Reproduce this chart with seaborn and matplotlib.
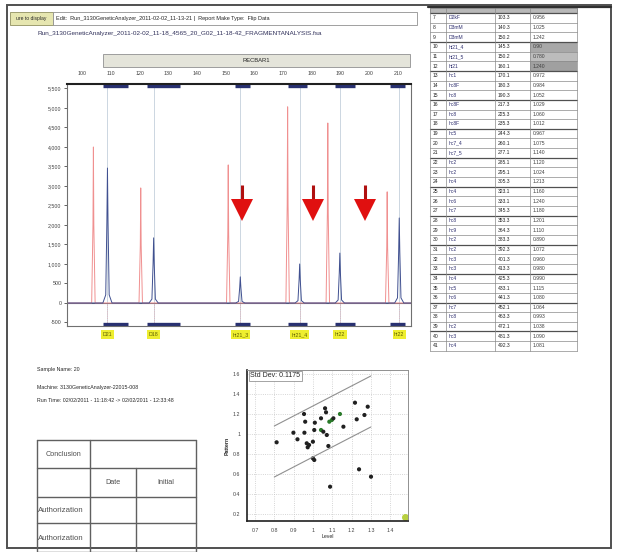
import matplotlib
matplotlib.use("Agg")
import pandas as pd
import matplotlib.pyplot as plt
import seaborn as sns
from matplotlib.patches import Rectangle

# --- electropherogram: peak size (bp) and height (RFU) ---
blue_pos = [108.8, 124.9, 155.1, 175.8, 189.8, 210.5]
blue_rfu = [3460, 1670, 670, 1000, 1280, 2180]
red_pos = [103.9, 120.4, 150.9, 171.6, 185.6, 206.3]
red_rfu = [4000, 2950, 3540, 5030, 4615, 2850]

bin_start = [107.4, 122.5, 153.3, 171.6, 188.1, 207.4]
bin_end = [116.1, 134.0, 158.6, 178.2, 195.1, 212.6]
marker_names = ["D21", "D18", "ht21_3", "ht21_4", "ht22", "ht22"]
arrow_pos = [155.6, 180.4, 198.4]

size_ticks = [100, 110, 120, 130, 140, 150, 160, 170, 180, 190, 200, 210]
rfu_ticks = [-500, 0, 500, 1000, 1500, 2000, 2500, 3000, 3500, 4000, 4500, 5000, 5500]

# --- ratio scatter ---
level_x = [0.812, 0.899, 0.92, 0.954, 0.96, 0.956, 0.968, 0.973, 0.98, 1.0, 1.0, 1.007,
           1.007, 1.01, 1.042, 1.042, 1.054, 1.063, 1.068, 1.072, 1.085, 1.098, 1.106,
           1.14, 1.158, 1.08, 1.089, 1.218, 1.227, 1.267, 1.284, 1.239, 1.301]
pattern_y = [0.917, 1.013, 0.947, 1.2, 1.123, 1.013, 0.907, 0.867, 0.89, 0.923, 0.757, 0.74,
             1.04, 1.113, 1.157, 1.04, 1.023, 1.257, 1.217, 0.99, 1.123, 1.14, 1.157,
             1.2, 1.073, 0.88, 0.473, 1.313, 1.147, 1.19, 1.273, 0.647, 0.573]
point_group = ["n"] * 33
for i in (15, 20, 21, 23):
    point_group[i] = "g"
level_ticks = [0.7, 0.8, 0.9, 1, 1.1, 1.2, 1.3, 1.4]
pattern_ticks = [0.2, 0.4, 0.6, 0.8, 1, 1.2, 1.4, 1.6]

# --- right-hand result table ---
row_no = list(range(7, 42))
row_name = ["D2kF", "D3mM", "D3mM", "ht21_4", "ht21_5", "ht21", "hc1", "hc8F", "hc8",
            "hc8F", "hc8", "hc8F", "hc5", "hc7_4", "hc7_5", "hc2", "hc2", "hc4", "hc4",
            "hc6", "hc7", "hc8", "hc9", "hc2", "hc2", "hc3", "hc3", "hc4", "hc5", "hc6",
            "hc7", "hc8", "hc2", "hc3", "hc4"]
row_size = ["103.3", "140.3", "150.2", "145.3", "150.2", "160.1", "170.1", "180.3",
            "190.3", "217.3", "225.3", "235.3", "244.3", "260.1", "277.1", "285.1",
            "295.1", "305.3", "323.1", "333.1", "345.3", "353.3", "364.3", "383.3",
            "392.3", "401.3", "413.3", "425.3", "433.1", "441.3", "452.1", "463.3",
            "472.1", "481.3", "492.3"]
row_value = ["0.956", "1.025", "1.242", "0.90", "0.780", "1.240", "0.972", "0.984",
             "1.052", "1.029", "1.060", "1.012", "0.967", "1.075", "1.140", "1.120",
             "1.024", "1.213", "1.160", "1.240", "1.180", "1.201", "1.110", "0.890",
             "1.072", "0.960", "0.980", "0.990", "1.115", "1.080", "1.064", "0.993",
             "1.038", "1.090", "1.081"]

W, H = 617, 552
sns.set_style("white")
plt.rcParams['font.family'] = ['Liberation Sans', 'DejaVu Sans']

fig = plt.figure(figsize=(W / 100, H / 100), dpi=100)


def px_axes(l, t, r, b):
    return fig.add_axes([l / W, 1 - b / H, (r - l) / W, (b - t) / H])


# background layer in pixel coordinates
bg = fig.add_axes([0, 0, 1, 1])
bg.set_xlim(0, W)
bg.set_ylim(H, 0)
bg.axis("off")

bg.add_patch(Rectangle((7, 5), 604, 543, fill=False, ec="#505050", lw=1.4))
bg.add_patch(Rectangle((10, 12), 43, 13, fc="#e6e6b0", ec="#909060", lw=0.6))
bg.text(31, 18.5, "ure to display", fontsize=3.6, ha="center", va="center")
bg.add_patch(Rectangle((53, 12), 364, 13, fc="white", ec="#909090", lw=0.6))
bg.text(56, 18.5, "Edit:  Run_3130GeneticAnalyzer_2011-02-02_11-13-21 |  Report Make Type:  Flip Data",
        fontsize=4, va="center")
bg.text(37, 34, "Run_3130GeneticAnalyzer_2011-02-02_11-18_4565_20_G02_11-18-42_FRAGMENTANALYSIS.fsa",
        fontsize=4.6, va="center", color="#30305a")
bg.add_patch(Rectangle((103, 54), 307, 13, fc="#e4e4da", ec="#909090", lw=0.6))
bg.text(256, 60.5, "RECBAR1", fontsize=4.2, ha="center", va="center")

# result table
tl, tr = 430, 577
col_x = [430, 446, 495, 530, 577]
t_top, row_h = 13, 9.65
bg.add_patch(Rectangle((tl, 8), tr - tl, t_top - 8, fc="#b8b8b8", ec="#808080", lw=0.5))
for i in range(len(row_no)):
    y0 = t_top + i * row_h
    if 3 <= i <= 5:
        bg.add_patch(Rectangle((col_x[3], y0), col_x[4] - col_x[3], row_h,
                               fc=["#a8a8a8", "#bcbcbc", "#a0a0a0"][i - 3], ec="none"))
    yc = y0 + row_h / 2
    bg.text(col_x[0] + 3, yc, str(row_no[i]), fontsize=3.6, va="center")
    bg.text(col_x[1] + 3, yc, row_name[i], fontsize=3.6, va="center", color="#303070")
    bg.text(col_x[2] + 3, yc, row_size[i], fontsize=3.6, va="center")
    bg.text(col_x[3] + 3, yc, row_value[i], fontsize=3.6, va="center", color="#404040")
for i in range(len(row_no) + 1):
    y0 = t_top + i * row_h
    bg.plot([tl, tr], [y0, y0], color="#505050" if i % 3 == 0 else "#8a8a8a",
            lw=0.9 if i % 3 == 0 else 0.5)
t_bot = t_top + len(row_no) * row_h
for x in col_x:
    bg.plot([x, x], [8, t_bot], color="#8a8a8a", lw=0.5)
bg.plot([428, 611], [7, 7], color="#303030", lw=1.6)

# sample info
bg.text(37, 370, "Sample Name: 20", fontsize=3.8, va="center")
bg.text(37, 387, "Machine: 3130GeneticAnalyzer-22015-008", fontsize=3.8, va="center")
bg.text(37, 400, "Run Time: 02/02/2011 - 11:18:42 -> 02/02/2011 - 12:33:48", fontsize=3.8, va="center")

# sign-off table
cx = [37, 90, 136, 196]
ry = [440, 468, 497, 523, 552]
bg.text(63, 454, "Conclusion", fontsize=5.2, ha="center", va="center", color="#505050")
bg.text(113, 482, "Date", fontsize=5.2, ha="center", va="center", color="#505050")
bg.text(166, 482, "Initial", fontsize=5.2, ha="center", va="center", color="#505050")
for y in (510, 538):
    t = bg.text(38, y, "Authorization", fontsize=5.6, va="center", color="#505050")
    clip = Rectangle((cx[0], y - 13), cx[1] - cx[0], 26, transform=bg.transData)
    t.set_clip_path(clip)
for y in ry:
    bg.plot([cx[0], cx[3]], [y, y], color="#606060", lw=1)
bg.plot([cx[0], cx[0]], [ry[0], ry[4]], color="#606060", lw=1)
bg.plot([cx[1], cx[1]], [ry[0], ry[4]], color="#606060", lw=1)
bg.plot([cx[2], cx[2]], [ry[1], ry[4]], color="#606060", lw=1)
bg.plot([cx[3], cx[3]], [ry[0], ry[4]], color="#606060", lw=1)

# --- electropherogram ---
ax = px_axes(67, 84, 411, 326)
x_lo, x_hi = 94.7, 214.6


def trace(pos, rfu, offs, frac):
    xs, ys = [x_lo], [0]
    for p, h in sorted(zip(pos, rfu)):
        for o, f in zip(offs, frac):
            xs.append(p + o)
            ys.append(h * f)
    xs.append(x_hi)
    ys.append(0)
    return xs, ys


bx, by = trace(blue_pos, blue_rfu, [-1.6, -0.6, -0.2, 0, 0.2, 0.6, 1.6],
               [0, 0.06, 0.6, 1, 0.6, 0.06, 0])
rx, ry_ = trace(red_pos, red_rfu, [-0.6, -0.15, 0, 0.15, 0.6], [0, 0.5, 1, 0.5, 0])
df = pd.concat([pd.DataFrame({"size": rx, "rfu": ry_, "dye": "red"}),
                pd.DataFrame({"size": bx, "rfu": by, "dye": "blue"})])

for p in blue_pos:
    ax.axvline(p, color="#c4d0dc", lw=0.6, zorder=0)
    ax.plot([p, p], [0, -560], color="#f0a0a0", lw=0.5, ls=":", zorder=0)
ax.axhline(0, color="#606070", lw=0.8, zorder=1)
sns.lineplot(data=df, x="size", y="rfu", hue="dye", palette={"red": "#f09090", "blue": "#405090"},
             sort=False, estimator=None, legend=False, lw=0.7, ax=ax)

xt = ax.get_xaxis_transform()
for s, e in zip(bin_start, bin_end):
    ax.plot([s, e], [0.992, 0.992], color="#283070", lw=2.4, transform=xt, solid_capstyle="butt")
    ax.plot([s, e], [0.01, 0.01], color="#283070", lw=2.4, transform=xt, solid_capstyle="butt")
for p, name in zip(blue_pos, marker_names):
    ax.text(p, -0.035, name, transform=xt, fontsize=3.8, ha="center", va="center",
            color="#606000", bbox=dict(boxstyle="square,pad=0.3", fc="#eeee30", ec="none"),
            clip_on=False)
for p in arrow_pos:
    ax.plot([p, p], [3025, 2640], color="#b01010", lw=2.2, solid_capstyle="butt")
    ax.plot([p], [2372], marker="v", markersize=16, color="#e01010", markeredgewidth=0)

ax.set_xlim(x_lo, x_hi)
ax.set_ylim(-590, 5615)
ax.xaxis.tick_top()
ax.set_xticks(size_ticks)
ax.set_xticklabels([str(v) for v in size_ticks])
ax.set_yticks(rfu_ticks)
ax.set_yticklabels([f"{v:,}" for v in rfu_ticks])
ax.tick_params(axis="x", labelsize=3.8, length=0, pad=6, labelcolor="#404040")
ax.tick_params(axis="y", labelsize=3.8, length=2, width=0.5, pad=2, labelcolor="#404040", left=True)
ax.set_xlabel("")
ax.set_ylabel("")
for sp in ax.spines.values():
    sp.set_color("#707070")
    sp.set_linewidth(0.8)
ax.spines["top"].set_color("#202020")
ax.spines["top"].set_linewidth(1.5)

# --- scatter ---
sx = px_axes(247, 370, 408, 521)
sc = pd.DataFrame({"Level": level_x, "Pattern": pattern_y, "grp": point_group})
sx.grid(True, color="#c8c8c8", ls=":", lw=0.6)
sx.plot([0.8, 1.3], [1.08, 1.58], color="#909090", lw=0.8)
sx.plot([0.8, 1.3], [0.57, 1.07], color="#909090", lw=0.8)
sns.scatterplot(data=sc, x="Level", y="Pattern", hue="grp",
                palette={"n": "#202020", "g": "#2a7a2a"}, s=9, linewidth=0, legend=False, ax=sx)
sx.plot([1.475], [0.17], marker="o", markersize=4, color="#b8d040", clip_on=False)
sx.set_xlim(0.6585, 1.4927)
sx.set_ylim(0.13, 1.64)
sx.set_xticks(level_ticks)
sx.set_xticklabels(["0.7", "0.8", "0.9", "1", "1.1", "1.2", "1.3", "1.4"])
sx.set_yticks(pattern_ticks)
sx.set_yticklabels(["0.2", "0.4", "0.6", "0.8", "1", "1.2", "1.4", "1.6"])
sx.tick_params(labelsize=3.8, length=0, pad=5, labelcolor="#404040")
sx.set_xlabel("Level", fontsize=3.8, labelpad=1)
sx.set_ylabel("Pattern", fontsize=3.8, fontweight="bold", labelpad=2)
sx.text(0.02, 0.985, "Std Dev: 0.1175", transform=sx.transAxes, fontsize=5, va="top",
        bbox=dict(boxstyle="square,pad=0.2", fc="white", ec="#808080", lw=0.5))
for sp in ("left", "bottom"):
    sx.spines[sp].set_color("#202020")
    sx.spines[sp].set_linewidth(1.2)
for sp in ("top", "right"):
    sx.spines[sp].set_color("#909090")
    sx.spines[sp].set_linewidth(0.7)

fig.savefig("out.png", dpi=100)
